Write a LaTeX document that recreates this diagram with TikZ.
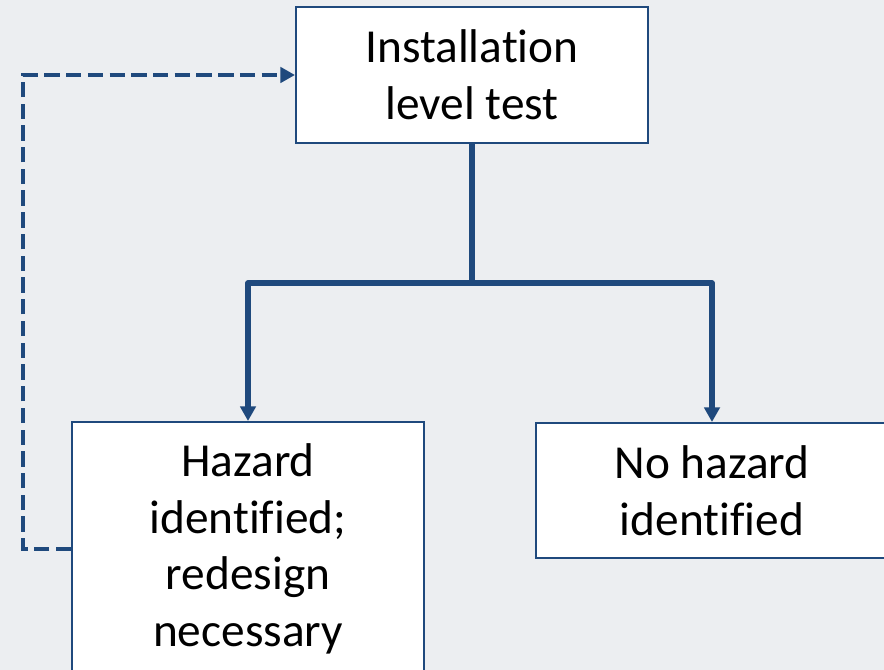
\documentclass[tikz,border=0pt]{standalone}
\usepackage{fontspec}
\setmainfont{Carlito}[Ligatures={NoCommon}]
\usetikzlibrary{arrows.meta}
\definecolor{bgcol}{RGB}{236,238,241}
\definecolor{navy}{RGB}{31,73,125}
\tikzset{
  box/.style={draw=navy, line width=1.5pt, fill=white, align=center,
    inner sep=0pt, minimum width=352*0.75pt,
    font=\fontsize{35.5}{42.5}\selectfont},
  flow/.style={draw=navy, line width=3.8pt, line join=round,
    -{Triangle[width=11.5pt,length=11pt]}},
  plain/.style={draw=navy, line width=3.8pt, line join=round},
  loop/.style={draw=navy, line width=3.7pt, dash pattern=on 11.5pt off 4.8pt,
    -{Triangle[width=11.5pt,length=11pt]}}
}
\begin{document}
\begin{tikzpicture}[x=0.75pt, y=-0.75pt]
  \useasboundingbox (0,0) rectangle (884,670);
  \fill[bgcol] (0,0) rectangle (884,670);
  \clip (0,0) rectangle (884,670);
  % boxes
  \node[box, minimum height=136*0.75pt] (top) at (472,75) {Installation\\level test};
  \node[box, minimum height=254*0.75pt] (haz) at (248,549) {Hazard\\identified;\\redesign\\necessary};
  \node[box, minimum height=135*0.75pt] (nohaz) at (712,490.5) {No hazard\\identified};
  % branching connector
  \coordinate (fork) at (472,283);
  \draw[plain] (top.south) -- (fork);
  \draw[flow] (fork) -| (haz.north);
  \draw[flow] (fork) -| (nohaz.north);
  % feedback loop
  \draw[loop] (haz.west) -- ++(-48,0) |- (top.west);
\end{tikzpicture}
\end{document}
